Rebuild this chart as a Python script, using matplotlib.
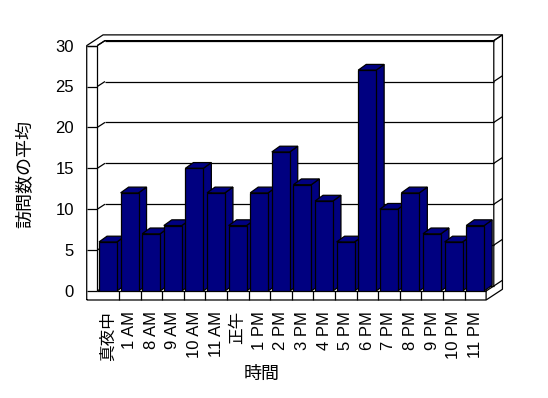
import matplotlib
matplotlib.use("Agg")
import matplotlib.pyplot as plt
from matplotlib.patches import Polygon
import numpy as np

plt.rcParams["font.family"] = ["Liberation Sans", "Noto Sans CJK JP"]

# data
hours = ["真夜中", "1 AM", "8 AM", "9 AM", "10 AM", "11 AM", "正午", "1 PM", "2 PM",
         "3 PM", "4 PM", "5 PM", "6 PM", "7 PM", "8 PM", "9 PM", "10 PM", "11 PM"]
visits = [6, 12, 7, 8, 15, 12, 8, 12, 17, 13, 11, 6, 27, 10, 12, 7, 6, 8]
yticks = [0, 5, 10, 15, 20, 25, 30]

NAVY = "#000080"
LW = 0.9
W, H = 548, 398
fig = plt.figure(figsize=(W / 100, H / 100), dpi=100)
ax = fig.add_axes([97.3 / W, (H - 291) / H, 388.8 / W, 245.4 / H])
n = len(hours)
ymax = yticks[-1]
ax.set_xlim(0, n); ax.set_ylim(0, ymax)
for s in ax.spines.values(): s.set_visible(False)
ax.patch.set_visible(False)

# fake 3d depth (data units)
DX1, DY1 = 0.356, 0.61   # floor depth to back wall
DX2, DY2 = 0.40, 0.70    # wall thickness
BDX, BDY = 0.37, 0.70    # bar depth
LWF = 0.49               # left wall front thickness
SLAB = 1.1               # floor slab thickness

def line(xs, ys, z=2):
    ax.plot(xs, ys, color="black", lw=LW, clip_on=False, zorder=z, solid_capstyle="butt")

# gridlines on walls
for v in yticks:
    line([DX1, n + DX1], [v + DY1, v + DY1], 1)
    line([0, DX1], [v, v + DY1], 1)
    line([-LWF, 0], [v, v], 1)
    line([n + DX1, n + DX1 + DX2], [v + DY1, v + DY1 + DY2], 1)

# frame
TX, TY = DX1 + DX2, DY1 + DY2
line([-LWF, -LWF, -LWF + TX, n + TX, n + TX, n, -LWF],
     [-SLAB, ymax, ymax + TY, ymax + TY, -SLAB + TY, -SLAB, -SLAB])
line([-LWF, 0, 0], [ymax, ymax, 0])
line([0, DX1, n + DX1, n + TX], [ymax, ymax + DY1, ymax + DY1, ymax + TY])
line([n + DX1, n + DX1, n, n], [ymax + DY1, DY1, 0, -SLAB])
line([0, n], [0, 0])
for i in range(1, n):
    line([i, i], [-SLAB, 0])

# bars
bars = ax.bar(np.arange(n) + 0.08, visits, width=0.83, align="edge", color=NAVY,
              edgecolor="black", linewidth=LW)
for i, b in enumerate(bars):
    x0, w, h = b.get_x(), b.get_width(), b.get_height()
    b.set_zorder(3 + i * 0.1 + 0.05)
    side = Polygon([(x0 + w, 0), (x0 + w + BDX, BDY), (x0 + w + BDX, h + BDY), (x0 + w, h)],
                   closed=True, fc=NAVY, ec="black", lw=LW, zorder=3 + i * 0.1, clip_on=False)
    top = Polygon([(x0, h), (x0 + BDX, h + BDY), (x0 + w + BDX, h + BDY), (x0 + w, h)],
                  closed=True, fc=NAVY, ec="black", lw=LW, zorder=3 + i * 0.1, clip_on=False)
    ax.add_patch(side); ax.add_patch(top)

# ticks and labels
ax.set_xticks(np.arange(n) + 0.5, hours, rotation=90, fontsize=12)
ax.set_yticks(yticks, [str(t) for t in yticks], fontsize=12)
ax.tick_params(axis="x", length=0, pad=14.4)
ax.tick_params(axis="y", length=0, pad=16.8)
ax.set_xlabel("時間", fontsize=13, va="center")
ax.xaxis.set_label_coords(0.423, -0.342)
ax.set_ylabel("訪問数の平均", fontsize=13, va="center")
ax.yaxis.set_label_coords(-0.184, 0.477)

fig.savefig("out.png", dpi=100)
